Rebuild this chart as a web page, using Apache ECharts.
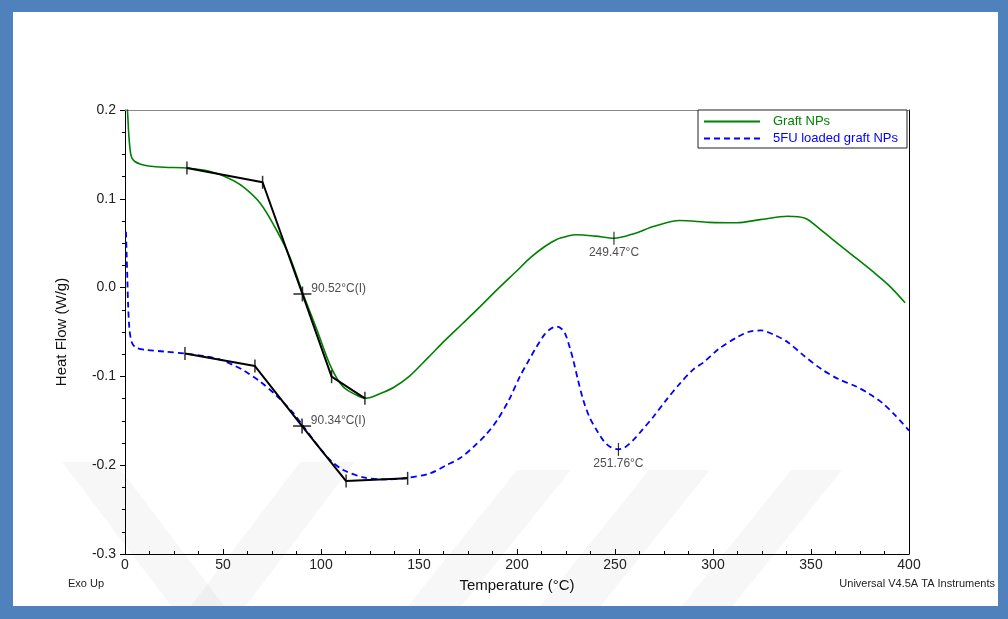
<!DOCTYPE html>
<html>
<head>
<meta charset="utf-8">
<script src="https://cdn.jsdelivr.net/npm/echarts@6/dist/echarts.min.js"></script>
<style>
html,body{margin:0;padding:0;background:#fff;}
#chart{width:1008px;height:619px;}
</style>
</head>
<body>
<div id="chart"></div>
<script>
// ---- data ----
const xTicks = [0, 50, 100, 150, 200, 250, 300, 350, 400];
const yTicks = [-0.3, -0.2, -0.1, 0.0, 0.1, 0.2];

const graftT = [1.0, 1.5, 2.0, 2.8, 3.5, 5, 8, 12, 20, 31.6, 43, 52, 60, 69, 77, 84, 90.5, 98, 105, 111, 118, 123, 130, 137, 145, 155, 163, 172, 180, 190, 200, 207, 214, 220, 226, 230, 240, 249.5, 260, 270, 283, 298, 312, 324, 338, 347, 355, 364, 372, 381, 390, 398];
const graftV = [0.21, 0.19, 0.17, 0.152, 0.146, 0.142, 0.139, 0.137, 0.1355, 0.1347, 0.131, 0.124, 0.114, 0.095, 0.066, 0.035, -0.005, -0.048, -0.089, -0.111, -0.121, -0.1245, -0.1195, -0.1125, -0.100, -0.078, -0.060, -0.041, -0.024, -0.002, 0.019, 0.034, 0.046, 0.054, 0.058, 0.0595, 0.058, 0.0555, 0.061, 0.069, 0.0755, 0.0735, 0.073, 0.0765, 0.0803, 0.078, 0.065, 0.049, 0.035, 0.019, 0.002, -0.017];

const loadedT = [0.5, 0.8, 1.2, 1.6, 2.2, 3, 4, 6, 10, 20, 30.6, 40, 48.5, 55, 60.4, 69, 77, 86, 90.6, 98, 104.6, 111.4, 121.6, 131.8, 143.7, 155.6, 164, 171, 178, 184, 190, 196, 201.5, 206, 210, 214, 217, 220.3, 222.5, 224.5, 227, 228.7, 231, 233.8, 237, 240.6, 244, 247.4, 251.7, 255, 259.4, 264, 269.6, 276, 283.2, 290, 295, 303, 312.3, 318, 324.4, 331, 338.2, 346, 355.5, 364, 372.8, 380, 386.6, 393, 400];
const loadedV = [0.063, 0.04, 0.01, -0.02, -0.045, -0.058, -0.064, -0.068, -0.070, -0.072, -0.0742, -0.077, -0.081, -0.087, -0.093, -0.106, -0.121, -0.1416, -0.155, -0.177, -0.194, -0.2054, -0.2137, -0.216, -0.2144, -0.2092, -0.200, -0.192, -0.179, -0.166, -0.149, -0.126, -0.100, -0.082, -0.0665, -0.053, -0.0465, -0.044, -0.046, -0.0515, -0.068, -0.0815, -0.103, -0.1266, -0.146, -0.1604, -0.172, -0.1792, -0.1822, -0.180, -0.1716, -0.160, -0.1454, -0.127, -0.1078, -0.092, -0.0845, -0.069, -0.0559, -0.050, -0.0482, -0.053, -0.0616, -0.076, -0.0921, -0.103, -0.1111, -0.120, -0.1303, -0.144, -0.161];

// tangent constructions (onset / inflection / end points)
const graftTanT = [31.6, 70.2, 90.52, 105.4, 122.4];
const graftTanV = [0.1347, 0.1186, -0.0072, -0.1003, -0.1247];
const loadedTanT = [30.6, 66.3, 90.34, 112.8, 144.2];
const loadedTanV = [-0.0742, -0.0883, -0.1559, -0.2178, -0.2148];

// inflection points with labels
const inflT = [90.52, 90.34];
const inflV = [-0.0072, -0.1559];
const inflLabels = ['90.52°C(I)', '90.34°C(I)'];

// peak markers with labels
const peakT = [249.47, 251.76];
const peakV = [0.0555, -0.1822];
const peakLabels = ['249.47°C', '251.76°C'];

const seriesNames = ['Graft NPs', '5FU loaded graft NPs'];
// ---------------------------------------

const zip = (a, b) => a.map((v, i) => [v, b[i]]);
const FONT = 'Liberation Sans, Arial, Helvetica, sans-serif';

const tickPts = zip(graftTanT, graftTanV).filter((p, i) => i !== 2)
  .concat(zip(loadedTanT, loadedTanV).filter((p, i) => i !== 2));

const chart = echarts.init(document.getElementById('chart'), null, {renderer: 'canvas'});
const BLUE = '#4f81bd';
const WM = 'rgba(0,0,0,0.03)';

// faint background watermark stripes (decoration, not data)
function stripe(pts) {
  return {type: 'polygon', shape: {points: pts}, style: {fill: WM}, z: -10, silent: true};
}

chart.setOption({
  animation: false,
  backgroundColor: '#fff',
  textStyle: {fontFamily: FONT},
  graphic: [
    stripe([[62, 462], [115, 462], [225, 607], [172, 607]]),
    stripe([[300, 462], [355, 462], [245, 607], [190, 607]]),
    stripe([[517, 470], [571, 470], [461, 607], [407, 607]]),
    stripe([[649, 470], [710, 470], [600, 607], [539, 607]]),
    stripe([[791, 470], [842, 470], [732, 607], [681, 607]]),
    {type: 'rect', shape: {x: 0, y: 0, width: 1008, height: 12}, style: {fill: BLUE}, z: 100},
    {type: 'rect', shape: {x: 0, y: 0, width: 13, height: 619}, style: {fill: BLUE}, z: 100},
    {type: 'rect', shape: {x: 998, y: 0, width: 10, height: 619}, style: {fill: BLUE}, z: 100},
    {type: 'rect', shape: {x: 0, y: 606, width: 1008, height: 13}, style: {fill: BLUE}, z: 100},
    {type: 'text', left: 68, top: 578, style: {text: 'Exo Up', font: '11px ' + FONT, fill: '#222'}},
    {type: 'text', right: 13, top: 578, style: {text: 'Universal V4.5A TA Instruments', font: '11px ' + FONT, fill: '#222', textAlign: 'right'}}
  ],
  grid: {left: 125, top: 110, width: 784, height: 444, containLabel: false},
  legend: {
    orient: 'vertical',
    left: 698, top: 110,
    padding: [5, 9, 3, 5],
    itemGap: 4,
    itemWidth: 56, itemHeight: 12,
    borderColor: '#222', borderWidth: 1,
    backgroundColor: '#fff',
    textStyle: {fontSize: 13, fontFamily: FONT, padding: [0, 0, 0, 8]},
    data: [
      {name: seriesNames[0], itemStyle: {opacity: 0}, textStyle: {color: '#008000'}},
      {name: seriesNames[1], itemStyle: {opacity: 0}, textStyle: {color: '#0000ff'}}
    ]
  },
  xAxis: [{
    type: 'value', min: 0, max: 400, interval: 50,
    name: 'Temperature (°C)', nameLocation: 'middle', nameGap: 24,
    nameTextStyle: {fontSize: 15, color: '#111', fontFamily: FONT},
    axisLine: {onZero: false, lineStyle: {color: '#000', width: 1}},
    axisTick: {inside: true, length: 5, lineStyle: {color: '#000'}},
    minorTick: {show: true, splitNumber: 4, length: 3, lineStyle: {color: '#000'}},
    splitLine: {show: false},
    axisLabel: {fontSize: 14, color: '#222', margin: 4, fontFamily: FONT,
      formatter: v => xTicks.includes(v) ? String(v) : ''}
  }, {
    type: 'value', position: 'top', min: 0, max: 400,
    axisLine: {show: true, onZero: false, lineStyle: {color: '#888'}},
    axisTick: {show: false}, axisLabel: {show: false}, splitLine: {show: false}
  }],
  yAxis: [{
    type: 'value', min: -0.3, max: 0.2, interval: 0.1,
    name: 'Heat Flow (W/g)', nameLocation: 'middle', nameGap: 56, nameRotate: 90,
    nameTextStyle: {fontSize: 15, color: '#111', fontFamily: FONT},
    axisLine: {show: true, onZero: false, lineStyle: {color: '#000', width: 1}},
    axisTick: {show: true, inside: false, length: 5, lineStyle: {color: '#000'}},
    minorTick: {show: true, splitNumber: 4, length: 3, lineStyle: {color: '#000'}},
    splitLine: {show: false},
    axisLabel: {fontSize: 14, color: '#222', margin: 9, fontFamily: FONT,
      formatter: v => {
        const t = yTicks.find(y => Math.abs(y - v) < 1e-9);
        return t === undefined ? '' : (Math.abs(t) < 1e-9 ? '0.0' : t.toFixed(1));
      }}
  }, {
    type: 'value', position: 'right', min: -0.3, max: 0.2,
    axisLine: {show: true, onZero: false, lineStyle: {color: '#000'}},
    axisTick: {show: false}, axisLabel: {show: false}, splitLine: {show: false}
  }],
  series: [
    {
      name: seriesNames[0], type: 'line', data: zip(graftT, graftV),
      showSymbol: false, symbol: 'none', smooth: 0.3, clip: true,
      lineStyle: {color: '#008000', width: 1.6}, itemStyle: {color: '#008000'}, z: 3
    },
    {
      name: seriesNames[1], type: 'line', data: zip(loadedT, loadedV),
      showSymbol: false, symbol: 'none', smooth: 0.3, clip: true,
      lineStyle: {color: '#0000ff', width: 1.8, type: [6, 4]}, itemStyle: {color: '#0000ff'}, z: 3
    },
    {
      type: 'line', data: zip(graftTanT, graftTanV), symbol: 'none', silent: true,
      lineStyle: {color: '#000', width: 2}, z: 4
    },
    {
      type: 'line', data: zip(loadedTanT, loadedTanV), symbol: 'none', silent: true,
      lineStyle: {color: '#000', width: 2}, z: 4
    },
    {
      type: 'scatter', data: tickPts, symbol: 'rect', symbolSize: [1.5, 13], silent: true,
      itemStyle: {color: '#000'}, z: 5
    },
    {
      type: 'scatter', data: zip(inflT, inflV), symbol: 'rect', symbolSize: [1.6, 15], silent: true,
      itemStyle: {color: '#000'}, z: 5,
      label: {show: true, position: 'right', distance: 8, offset: [0, -5],
        formatter: p => inflLabels[p.dataIndex], fontSize: 12, color: '#222', fontFamily: FONT}
    },
    {
      type: 'scatter', data: zip(inflT, inflV), symbol: 'rect', symbolSize: [18, 1.6], silent: true,
      itemStyle: {color: '#000'}, z: 5
    },
    {
      type: 'scatter', data: zip(peakT, peakV), symbol: 'rect', symbolSize: [1.2, 13], silent: true,
      itemStyle: {color: '#000'}, z: 5,
      label: {show: true, position: 'bottom', distance: 2,
        formatter: p => peakLabels[p.dataIndex], fontSize: 12, color: '#222', fontFamily: FONT}
    }
  ]
});
</script>
</body>
</html>
